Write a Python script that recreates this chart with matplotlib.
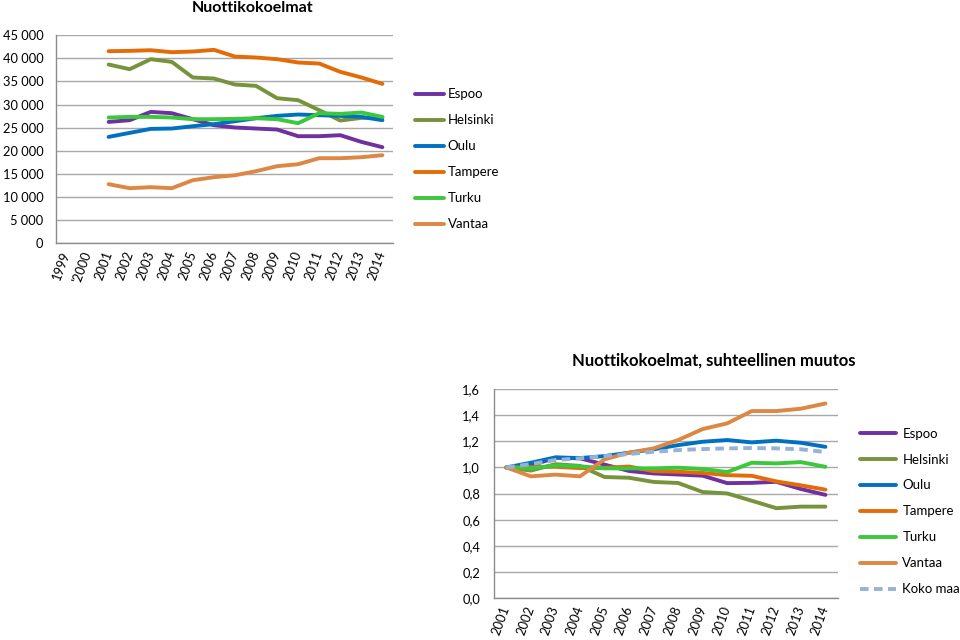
import numpy as np
import matplotlib
matplotlib.use('Agg')
import matplotlib.pyplot as plt
from matplotlib.ticker import FuncFormatter

plt.rcParams['font.family'] = ['Lato', 'DejaVu Sans']

# Top chart: absolute collection sizes (1999 and 2000 have no data)
years_top = ['1999', "'2000", '2001', '2002', '2003', '2004', '2005', '2006',
             '2007', '2008', '2009', '2010', '2011', '2012', '2013', '2014']
nan = np.nan
espoo = [nan, nan, 26240, 26610, 28410, 28125, 26830, 25530, 25030, 24810, 24590, 23150, 23150, 23365, 21920, 20770]
helsinki = [nan, nan, 38660, 37645, 39808, 39230, 35850, 35630, 34330, 34040, 31370, 30940, 28775, 26540, 27110, 27190]
oulu = [nan, nan, 23000, 23870, 24730, 24810, 25310, 25750, 26390, 27040, 27550, 27840, 27690, 27550, 27330, 26610]
tampere = [nan, nan, 41540, 41610, 41750, 41320, 41470, 41830, 40380, 40170, 39810, 39090, 38870, 37070, 35860, 34470]
turku = [nan, nan, 27190, 27330, 27330, 27190, 26830, 26830, 26900, 27040, 26830, 25960, 28125, 27980, 28270, 27330]
vantaa = [nan, nan, 12770, 11900, 12120, 11900, 13630, 14280, 14700, 15580, 16660, 17090, 18390, 18390, 18600, 19040]

# Bottom chart: relative change (2001 = 1.0)
years_rel = ['2001', '2002', '2003', '2004', '2005', '2006', '2007',
             '2008', '2009', '2010', '2011', '2012', '2013', '2014']
espoo_rel = [1.0, 1.014, 1.075, 1.07, 1.022, 0.973, 0.954, 0.946, 0.937, 0.880, 0.882, 0.890, 0.835, 0.790]
helsinki_rel = [1.0, 0.976, 1.025, 1.012, 0.927, 0.921, 0.889, 0.881, 0.812, 0.801, 0.745, 0.688, 0.700, 0.700]
oulu_rel = [1.0, 1.036, 1.077, 1.072, 1.087, 1.113, 1.139, 1.171, 1.197, 1.210, 1.192, 1.205, 1.189, 1.158]
tampere_rel = [1.0, 1.002, 1.005, 0.995, 0.998, 1.007, 0.972, 0.967, 0.958, 0.941, 0.936, 0.893, 0.863, 0.830]
turku_rel = [1.0, 0.993, 1.015, 1.009, 0.993, 0.993, 0.993, 0.998, 0.988, 0.965, 1.036, 1.031, 1.041, 1.005]
vantaa_rel = [1.0, 0.932, 0.945, 0.932, 1.062, 1.113, 1.146, 1.210, 1.294, 1.338, 1.432, 1.432, 1.450, 1.490]
koko_maa_rel = [1.0, 1.026, 1.057, 1.070, 1.087, 1.103, 1.120, 1.133, 1.141, 1.146, 1.149, 1.146, 1.139, 1.118]

colors = {
    'Espoo': '#7030A0',
    'Helsinki': '#77933C',
    'Oulu': '#0070C0',
    'Tampere': '#E36C09',
    'Turku': '#3BC83B',
    'Vantaa': '#DD8744',
}
grid_col = '#A8A8A8'
axis_col = '#8C8C8C'
lw = 2.8

fig = plt.figure(figsize=(9.6, 6.4), dpi=100)


def style_axes(ax):
    ax.grid(axis='y', color=grid_col, linewidth=1.0)
    ax.set_axisbelow(True)
    for s in ['top', 'right']:
        ax.spines[s].set_visible(False)
    for s in ['left', 'bottom']:
        ax.spines[s].set_color(axis_col)
        ax.spines[s].set_linewidth(1.0)
    ax.tick_params(length=0, labelsize=9.3, colors='black')


# ---- top chart ----
ax1 = fig.add_axes([0.0583, 0.620, 0.351, 0.325])
x1 = np.arange(len(years_top))
top_series = [('Espoo', espoo), ('Helsinki', helsinki), ('Oulu', oulu),
              ('Tampere', tampere), ('Turku', turku), ('Vantaa', vantaa)]
for name, vals in top_series:
    ax1.plot(x1, vals, color=colors[name], lw=lw, label=name, solid_capstyle='round')
ax1.set_xlim(-0.5, len(years_top) - 0.5)
ax1.set_ylim(0, 45000)
ax1.set_yticks(np.arange(0, 45001, 5000))
ax1.yaxis.set_major_formatter(FuncFormatter(lambda v, p: f'{int(v):,}'.replace(',', ' ')))
ax1.set_xticks(x1)
ax1.set_xticklabels(years_top, rotation=70, ha='right', va='center', rotation_mode='anchor')
style_axes(ax1)
ax1.tick_params(axis='x', pad=6)
ax1.tick_params(axis='y', pad=9)
fig.text(0.263, 0.988, 'Nuottikokoelmat', ha='center', va='center', fontsize=11.5, fontweight='bold')
fig.legend(*ax1.get_legend_handles_labels(), loc='upper left', bbox_to_anchor=(0.432, 0.862),
           frameon=False, fontsize=9.5, handlelength=2.2, handletextpad=0.3, labelspacing=1.06,
           borderaxespad=0, borderpad=0)

# ---- bottom chart ----
ax2 = fig.add_axes([0.5146, 0.0656, 0.358, 0.3264])
x2 = np.arange(len(years_rel))
rel_series = [('Espoo', espoo_rel), ('Helsinki', helsinki_rel), ('Oulu', oulu_rel),
              ('Tampere', tampere_rel), ('Turku', turku_rel), ('Vantaa', vantaa_rel)]
for name, vals in rel_series:
    ax2.plot(x2, vals, color=colors[name], lw=lw, label=name, solid_capstyle='round')
ax2.plot(x2, koko_maa_rel, color='#95B3D7', lw=lw, ls=(0, (2.2, 1.4)), label='Koko maa')
ax2.set_xlim(-0.5, len(years_rel) - 0.5)
ax2.set_ylim(0, 1.6)
ax2.set_yticks(np.arange(0, 1.61, 0.2))
ax2.yaxis.set_major_formatter(FuncFormatter(lambda v, p: f'{v:.1f}'.replace('.', ',')))
ax2.set_xticks(x2)
ax2.set_xticklabels(years_rel, rotation=70, ha='right', va='center', rotation_mode='anchor')
style_axes(ax2)
ax2.tick_params(axis='x', pad=6)
ax2.tick_params(axis='y', pad=10)
fig.text(0.744, 0.437, 'Nuottikokoelmat, suhteellinen muutos', ha='center', va='center',
         fontsize=12, fontweight='bold')
fig.legend(*ax2.get_legend_handles_labels(), loc='upper left', bbox_to_anchor=(0.896, 0.332),
           frameon=False, fontsize=9.5, handlelength=2.7, handletextpad=0.5, labelspacing=1.06,
           borderaxespad=0, borderpad=0)

fig.savefig('out.png', dpi=100)
